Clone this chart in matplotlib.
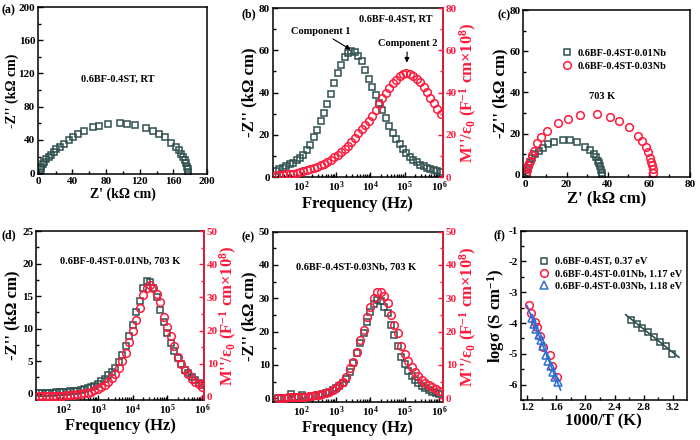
import numpy as np
import matplotlib
matplotlib.use('Agg')
import matplotlib.pyplot as plt
from matplotlib.ticker import MultipleLocator, LogLocator, NullFormatter, FormatStrFormatter

plt.rcParams['font.family'] = ['Liberation Serif', 'DejaVu Serif']
plt.rcParams['font.weight'] = 'bold'
plt.rcParams['axes.labelweight'] = 'bold'
plt.rcParams['axes.unicode_minus'] = False
plt.rcParams['mathtext.fontset'] = 'custom'
plt.rcParams['mathtext.rm'] = 'Liberation Serif:bold'
plt.rcParams['mathtext.it'] = 'Liberation Serif:bold:italic'
plt.rcParams['mathtext.bf'] = 'Liberation Serif:bold'
plt.rcParams['mathtext.default'] = 'rm'

GREY = '#2f4f4f'
RED = '#ff1a3c'
BLUE = '#2a6fd6'

# (a) Nyquist, 0.6BF-0.4ST at RT
a_zre = [0.8, 2.0, 3.1, 4.7, 6.7, 9.0, 11.8, 14.5, 17.6, 20.8, 24.7, 29.4, 35.3, 41.2, 47.0,
         54.0, 64.7, 71.8, 82.4, 96.0, 104.7, 114.5, 128.0, 136.0, 143.0, 150.0, 157.0,
         163.0, 166.7, 169.4, 171.8, 173.3, 175.0, 176.0, 176.9, 177.3]
a_zim = [2.0, 5.0, 7.8, 10.6, 13.3, 16.5, 19.6, 22.0, 25.0, 28.6, 31.8, 34.9, 40.0, 43.5, 47.0,
         51.0, 55.0, 57.3, 58.8, 60.0, 59.6, 57.6, 54.0, 51.0, 47.0, 43.0, 36.0,
         31.0, 27.5, 23.5, 19.6, 15.7, 11.8, 7.8, 4.7, 2.0]

# (b) spectroscopic plots at RT
b_logf = [1.25, 1.35, 1.45, 1.55, 1.65, 1.75, 1.85, 1.95, 2.05, 2.15, 2.25, 2.35, 2.45, 2.55,
          2.65, 2.75, 2.85, 2.95, 3.05, 3.15, 3.25, 3.35, 3.45, 3.55, 3.65, 3.75, 3.85, 3.95,
          4.05, 4.15, 4.25, 4.35, 4.45, 4.55, 4.65, 4.75, 4.85, 4.95, 5.05, 5.15, 5.25, 5.35,
          5.45, 5.55, 5.65, 5.75, 5.85, 5.95, 6.05]
b_zim = [3.0, 3.8, 4.5, 5.2, 6.0, 6.8, 7.9, 9.0, 10.4, 13.0, 15.2, 18.8, 22.2, 26.5,
         30.5, 34.5, 39.5, 44.5, 49.2, 53.2, 56.8, 58.8, 59.5, 59.0, 57.3, 54.8, 50.6, 46.3,
         42.5, 38.7, 35.2, 31.5, 28.0, 24.2, 20.8, 18.0, 15.6, 13.4, 11.5, 9.7, 8.2, 6.9,
         5.9, 5.1, 4.4, 3.8, 3.2, 2.7, 2.2]
b_mod = [0.9, 1.0, 1.1, 1.2, 1.4, 1.6, 1.9, 2.3, 2.7, 3.1, 3.6, 4.2, 4.8, 5.5,
         6.3, 7.2, 8.2, 9.3, 10.5, 11.9, 13.3, 14.9, 16.6, 18.6, 20.6, 22.8, 24.8, 26.5,
         29.0, 31.8, 34.5, 37.2, 39.8, 42.2, 44.3, 46.1, 47.6, 48.6, 49.1, 48.9, 48.0, 46.6,
         44.8, 42.6, 40.2, 37.6, 35.0, 32.3, 29.7]

# (c) Nyquist at 703 K
c1_zre = [0.96, 1.3, 1.8, 2.4, 3.4, 4.5, 6.4, 8.5, 10.9, 14.1, 18.4, 21.8, 25.3, 28.9, 31.2,
          33.3, 34.5, 35.2, 35.8, 36.5, 36.8, 37.1, 37.3]
c1_zim = [0.96, 2.9, 4.9, 6.5, 8.1, 10.1, 11.6, 13.3, 14.9, 16.2, 17.1, 16.8, 15.8, 13.6, 12.0,
          10.1, 8.5, 7.0, 5.8, 4.2, 2.6, 1.0, 0.2]
c3_zre = [0.5, 0.8, 1.3, 2.1, 3.2, 4.2, 5.8, 7.7, 10.6, 16.0, 20.5, 26.5, 34.9, 40.9, 45.4,
          50.2, 54.9, 56.8, 58.4, 59.7, 60.6, 61.1, 61.5, 61.8, 62.0]
c3_zim = [0.6, 2.9, 4.9, 7.0, 9.7, 11.8, 15.6, 18.2, 21.2, 25.2, 27.3, 28.9, 29.4, 28.1, 26.0,
          23.1, 19.0, 16.6, 13.7, 11.3, 8.4, 6.5, 4.9, 3.0, 1.0]

# (d), (e) spectroscopic plots at 703 K
de_logf = [1.3, 1.4, 1.5, 1.6, 1.7, 1.8, 1.9, 2.0, 2.1, 2.2, 2.3, 2.4, 2.5, 2.6, 2.7, 2.8,
           2.9, 3.0, 3.1, 3.2, 3.3, 3.4, 3.5, 3.6, 3.7, 3.8, 3.9, 4.0, 4.1, 4.2, 4.3, 4.4,
           4.5, 4.6, 4.7, 4.8, 4.9, 5.0, 5.1, 5.2, 5.3, 5.4, 5.5, 5.6, 5.7, 5.8, 5.9, 6.0]
d_zim = [0.1, 0.1, 0.1, 0.15, 0.15, 0.2, 0.2, 0.25, 0.3, 0.35, 0.4, 0.45, 0.55, 0.65, 0.8, 1.0,
         1.2, 1.5, 1.9, 2.3, 2.9, 3.4, 4.0, 4.9, 6.0, 7.3, 8.8, 10.5, 12.5, 14.3, 16.2, 17.3,
         17.1, 16.2, 14.8, 12.8, 11.0, 9.3, 7.8, 6.6, 5.5, 4.5, 3.7, 3.1, 2.6, 2.1, 1.7, 1.3]
d_mod = [0.2, 0.2, 0.2, 0.25, 0.3, 0.3, 0.35, 0.4, 0.5, 0.55, 0.65, 0.75, 0.9, 1.1, 1.3, 1.6,
         2.0, 2.5, 3.0, 3.7, 4.6, 5.6, 6.8, 8.6, 10.8, 13.2, 16.5, 20.0, 23.2, 26.8, 30.6, 32.8,
         33.6, 32.8, 31.0, 28.5, 24.2, 21.0, 18.2, 15.3, 12.0, 10.0, 8.2, 6.8, 5.5, 4.5, 3.8, 3.0]
e_zim = [0.1, 0.1, 0.1, 0.2, 1.2, 0.3, 0.3, 0.9, 0.4, 0.5, 0.6, 0.8, 1.0, 1.2, 1.5, 1.9,
         2.4, 3.0, 3.7, 4.6, 5.8, 7.8, 10.5, 13.5, 16.5, 19.5, 23.0, 26.0, 28.3, 29.5, 29.3, 27.5,
         25.5, 22.0, 19.0, 15.8, 12.5, 10.2, 8.3, 6.8, 5.6, 4.6, 3.8, 3.1, 2.5, 2.0, 1.6, 1.3]
e_mod = [0.2, 0.2, 0.2, 0.3, 0.3, 0.35, 0.4, 0.45, 0.5, 0.6, 0.7, 0.85, 1.0, 1.3, 1.6, 2.0,
         2.5, 3.2, 4.0, 5.0, 6.5, 9.0, 11.0, 14.0, 17.5, 20.5, 24.5, 27.5, 30.2, 31.8, 32.0, 30.6,
         28.5, 25.0, 22.0, 19.5, 15.8, 13.2, 11.2, 9.5, 7.9, 6.6, 5.6, 4.7, 4.0, 3.3, 2.8, 2.3]

# (f) Arrhenius plots
f0_x = [2.62, 2.70, 2.78, 2.86, 2.94, 3.02, 3.10, 3.19]
f0_y = [-3.90, -4.02, -4.15, -4.28, -4.44, -4.60, -4.75, -5.00]
f1_x = [1.23, 1.26, 1.31, 1.34, 1.38, 1.42, 1.51, 1.54, 1.61]
f1_y = [-3.42, -3.68, -3.97, -4.13, -4.42, -4.78, -5.05, -5.40, -5.75]
f3_x = [1.27, 1.30, 1.33, 1.36, 1.39, 1.42, 1.46, 1.49, 1.53, 1.56, 1.59, 1.62]
f3_y = [-3.85, -4.02, -4.20, -4.38, -4.55, -4.73, -5.05, -5.22, -5.40, -5.58, -5.75, -5.90]

TICK = 8
LAB = 12
NOTE = 7.5
MS = 5
MEW = 1.1
ZLAB = "-Z'' (k\u03a9 cm)"
MLAB = "M''/\u03b5$_0$ (F$^{-1}$ cm\u00d710$^8$)"
FLAB = 'Frequency (Hz)'


def style(ax):
    ax.tick_params(which='both', direction='in', labelsize=TICK, width=1, pad=2)
    ax.tick_params(which='major', length=3.5)
    ax.tick_params(which='minor', length=2)
    for s in ax.spines.values():
        s.set_linewidth(1.1)


def style_right(ax2):
    ax2.tick_params(which='both', direction='in', labelsize=TICK, colors=RED, width=1, pad=2)
    ax2.tick_params(which='major', length=3.5)
    ax2.tick_params(which='minor', length=2)
    ax2.spines['right'].set_color(RED)
    ax2.spines['right'].set_linewidth(1.1)
    for k in ['left', 'top', 'bottom']:
        ax2.spines[k].set_visible(False)
    ax2.yaxis.label.set_color(RED)


def logx(ax, lo, hi):
    ax.set_xscale('log')
    ax.set_xlim(10 ** lo, 10 ** hi)
    ax.xaxis.set_major_locator(LogLocator(base=10, numticks=10))
    ax.xaxis.set_minor_locator(LogLocator(base=10, subs=np.arange(2, 10), numticks=10))
    ax.xaxis.set_minor_formatter(NullFormatter())


fig = plt.figure(figsize=(7, 4.4), dpi=100)

# ---- (a)
axA = fig.add_axes([0.0543, 0.6045, 0.2414, 0.3795])
axA.plot(a_zre, a_zim, 's', mfc='none', mec=GREY, ms=MS, mew=MEW)
axA.set_xlim(-1, 200)
axA.set_ylim(-1, 200)
axA.xaxis.set_major_locator(MultipleLocator(40))
axA.xaxis.set_minor_locator(MultipleLocator(20))
axA.yaxis.set_major_locator(MultipleLocator(40))
axA.yaxis.set_minor_locator(MultipleLocator(20))
axA.set_xlabel("Z' (k\u03a9 cm)", fontsize=10, labelpad=1)
axA.set_ylabel(ZLAB, fontsize=10, labelpad=0)
axA.text(0.47, 0.57, '0.6BF-0.4ST, RT', transform=axA.transAxes, ha='center', va='center', fontsize=NOTE)
style(axA)

# ---- (b)
axB = fig.add_axes([0.3896, 0.5977, 0.2433, 0.3841])
fb = 10 ** np.array(b_logf)
axB.plot(fb, b_zim, 's', mfc='none', mec=GREY, ms=MS, mew=MEW)
logx(axB, 1.155, 6.117)
axB.set_ylim(0, 80)
axB.yaxis.set_major_locator(MultipleLocator(20))
axB.yaxis.set_minor_locator(MultipleLocator(10))
axB.set_xlabel(FLAB, fontsize=LAB, labelpad=1)
axB.set_ylabel(ZLAB, fontsize=LAB, labelpad=1)
style(axB)
axB2 = axB.twinx()
axB2.plot(fb, b_mod, 'o', mfc='none', mec=RED, ms=MS + 0.5, mew=MEW)
axB2.set_ylim(0, 80)
axB2.yaxis.set_major_locator(MultipleLocator(20))
axB2.yaxis.set_minor_locator(MultipleLocator(10))
axB2.set_ylabel(MLAB, fontsize=LAB, labelpad=1)
style_right(axB2)
axB.text(0.72, 0.935, '0.6BF-0.4ST, RT', transform=axB.transAxes, ha='center', va='center', fontsize=NOTE)
axB.annotate('Component 1', xy=(10 ** 3.46, 60), xytext=(10 ** 2.56, 68.8), ha='center', va='center',
             fontsize=NOTE, arrowprops=dict(arrowstyle='-|>', color='black', lw=0.8, mutation_scale=7,
                                            shrinkA=0, shrinkB=1))
axB2.annotate('Component 2', xy=(10 ** 5.06, 53.5), xytext=(10 ** 5.08, 63.3), ha='center', va='center',
              fontsize=NOTE, arrowprops=dict(arrowstyle='-|>', color='black', lw=0.8, mutation_scale=7,
                                             shrinkA=1, shrinkB=1))

# ---- (c)
axC = fig.add_axes([0.7476, 0.5977, 0.2381, 0.3795])
axC.plot(c1_zre, c1_zim, 's', mfc='none', mec=GREY, ms=MS, mew=MEW, label='0.6BF-0.4ST-0.01Nb')
axC.plot(c3_zre, c3_zim, 'o', mfc='none', mec=RED, ms=MS + 0.5, mew=MEW, label='0.6BF-0.4ST-0.03Nb')
axC.set_xlim(-1, 80)
axC.set_ylim(-1, 80)
axC.xaxis.set_major_locator(MultipleLocator(20))
axC.xaxis.set_minor_locator(MultipleLocator(10))
axC.yaxis.set_major_locator(MultipleLocator(20))
axC.yaxis.set_minor_locator(MultipleLocator(10))
axC.set_xlabel("Z' (k\u03a9 cm)", fontsize=LAB, labelpad=1)
axC.set_ylabel(ZLAB, fontsize=LAB, labelpad=1)
axC.text(37.3, 38.2, '703 K', ha='center', va='center', fontsize=NOTE)
axC.legend(loc='upper left', bbox_to_anchor=(0.23, 0.77), frameon=False, fontsize=NOTE,
           handlelength=1.0, handletextpad=0.5, labelspacing=0.35, borderaxespad=0, borderpad=0)
style(axC)

# ---- (d)
fde = 10 ** np.array(de_logf)
axD = fig.add_axes([0.0514, 0.092, 0.2400, 0.383])
axD.plot(fde, d_zim, 's', mfc='none', mec=GREY, ms=MS, mew=MEW)
logx(axD, 1.213, 6.057)
axD.set_ylim(-0.9, 25)
axD.yaxis.set_major_locator(MultipleLocator(5))
axD.yaxis.set_minor_locator(MultipleLocator(2.5))
axD.set_xlabel(FLAB, fontsize=LAB, labelpad=1)
axD.set_ylabel(ZLAB, fontsize=LAB, labelpad=1)
style(axD)
axD2 = axD.twinx()
axD2.plot(fde, d_mod, 'o', mfc='none', mec=RED, ms=MS + 0.5, mew=MEW)
axD2.set_ylim(-0.8, 50)
axD2.yaxis.set_major_locator(MultipleLocator(10))
axD2.yaxis.set_minor_locator(MultipleLocator(5))
axD2.set_ylabel(MLAB, fontsize=LAB, labelpad=0)
style_right(axD2)
axD.text(0.5, 0.82, '0.6BF-0.4ST-0.01Nb, 703 K', transform=axD.transAxes, ha='center', va='center', fontsize=NOTE)

# ---- (e)
axE = fig.add_axes([0.3896, 0.0875, 0.2433, 0.386])
axE.plot(fde, e_zim, 's', mfc='none', mec=GREY, ms=MS, mew=MEW)
logx(axE, 1.155, 6.117)
axE.set_ylim(-1, 50)
axE.yaxis.set_major_locator(MultipleLocator(10))
axE.yaxis.set_minor_locator(MultipleLocator(5))
axE.set_xlabel(FLAB, fontsize=LAB, labelpad=1)
axE.set_ylabel(ZLAB, fontsize=LAB, labelpad=1)
style(axE)
axE2 = axE.twinx()
axE2.plot(fde, e_mod, 'o', mfc='none', mec=RED, ms=MS + 0.5, mew=MEW)
axE2.set_ylim(-1, 50)
axE2.yaxis.set_major_locator(MultipleLocator(10))
axE2.yaxis.set_minor_locator(MultipleLocator(5))
axE2.set_ylabel(MLAB, fontsize=LAB, labelpad=1)
style_right(axE2)
axE.text(0.49, 0.79, '0.6BF-0.4ST-0.03Nb, 703 K', transform=axE.transAxes, ha='center', va='center', fontsize=NOTE)

# ---- (f)
axF = fig.add_axes([0.7443, 0.0909, 0.2367, 0.3848])
axF.plot(f0_x, f0_y, 's', mfc='none', mec=GREY, ms=MS, mew=MEW, label='0.6BF-0.4ST, 0.37 eV')
axF.plot(f1_x, f1_y, 'o', mfc='none', mec=RED, ms=MS + 0.5, mew=MEW, label='0.6BF-0.4ST-0.01Nb, 1.17 eV')
axF.plot(f3_x, f3_y, '^', mfc='none', mec=BLUE, ms=MS + 0.5, mew=MEW, label='0.6BF-0.4ST-0.03Nb, 1.18 eV')
# linear fits
k0 = np.polyfit(f0_x, f0_y, 1)
xx0 = np.array([min(f0_x) - 0.07, max(f0_x) + 0.09])
axF.plot(xx0, np.polyval(k0, xx0), '-', color=GREY, lw=1.2)
k3 = np.polyfit(f3_x, f3_y, 1)
xx3 = np.array([min(f1_x) - 0.03, max(f3_x) + 0.04])
axF.plot(xx3, np.polyval(k3, xx3), '-', color=BLUE, lw=1.2)
axF.set_xlim(1.118, 3.387)
axF.set_ylim(-6.5, -1)
axF.xaxis.set_major_locator(MultipleLocator(0.4))
axF.xaxis.set_minor_locator(MultipleLocator(0.2))
axF.yaxis.set_major_locator(MultipleLocator(1))
axF.yaxis.set_minor_locator(MultipleLocator(0.5))
axF.xaxis.set_major_formatter(FormatStrFormatter('%.1f'))
axF.set_xlabel('1000/T (K)', fontsize=LAB, labelpad=1)
axF.set_ylabel('log\u03c3 (S cm$^{-1}$)', fontsize=LAB, labelpad=1)
axF.legend(loc='upper left', bbox_to_anchor=(0.11, 0.845), frameon=False, fontsize=NOTE,
           handlelength=1.0, handletextpad=0.5, labelspacing=0.3, borderaxespad=0, borderpad=0)
style(axF)

for lab, px, py in [('(a)', 2, 10), ('(b)', 242, 14), ('(c)', 497, 15),
                    ('(d)', 1, 235), ('(e)', 242, 237), ('(f)', 494, 235)]:
    fig.text(px / 700, 1 - py / 440, lab, ha='left', va='center', fontsize=8.5)

fig.savefig('out.png', dpi=100)
